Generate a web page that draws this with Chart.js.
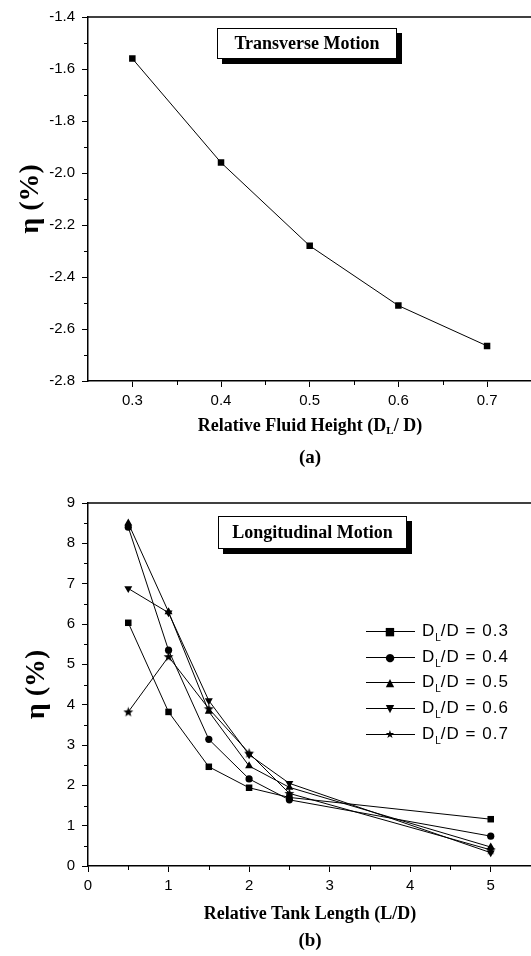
<!DOCTYPE html>
<html>
<head>
<meta charset="utf-8">
<script src="https://cdn.jsdelivr.net/npm/chart.js@4/dist/chart.umd.min.js"></script>
<style>
html, body { margin: 0; padding: 0; background: #fff; overflow: hidden; }
#page { position: relative; width: 531px; height: 956px; overflow: hidden; }
canvas { position: absolute; left: 0; }
.box { position: absolute; border: 1px solid #000; background: #fff; box-shadow: 5px 5px 0 #000;
       font: bold 18px "Liberation Serif"; text-align: center; box-sizing: border-box; color: #000; }
.cap { position: absolute; left: 0; width: 620px; text-align: center; font: bold 18px "Liberation Serif";
       line-height: 20px; color: #000; }
.cap sub { font-size: 11px; vertical-align: -3px; }
.row { position: absolute; left: 366px; height: 20px; width: 165px; }
.row .ln { position: absolute; left: 0; top: 10px; width: 49px; border-top: 1px solid #000; }
.row .mk { position: absolute; left: 24px; top: 10px; transform: translate(-50%, -50%);
           font: 11px "DejaVu Sans"; line-height: 11px; color: #000; }
.row .tx { position: absolute; left: 56px; top: 0; font: 17px "Liberation Sans"; line-height: 20px;
           letter-spacing: 1px; color: #000; white-space: nowrap; }
.row .tx sub { font-size: 10px; vertical-align: -5px; letter-spacing: 0; }
</style>
</head>
<body>
<div id="page">
  <canvas id="chartA" width="536" height="470" style="top:0"></canvas>
  <canvas id="chartB" width="536" height="486" style="top:470px"></canvas>

  <div class="box" style="left:217px;top:28px;width:180px;height:31px;line-height:29px">Transverse Motion</div>
  <div class="cap" style="top:415px">Relative Fluid Height (D<sub>L</sub>/ D)</div>
  <div class="cap" style="top:447px;font-size:19px">(a)</div>

  <div class="box" style="left:218px;top:516px;width:189px;height:33px;line-height:31px">Longitudinal Motion</div>
  <div class="cap" style="top:903px">Relative Tank Length (L/D)</div>
  <div class="cap" style="top:930px;font-size:19px">(b)</div>

  <div id="legend"></div>
</div>

<script>
// panel (a): transverse motion
var heightA = [0.3, 0.4, 0.5, 0.6, 0.7];
var etaA = [-1.56, -1.96, -2.28, -2.51, -2.665];
var ticksAx = [0.3, 0.4, 0.5, 0.6, 0.7];
var minorAx = [0.35, 0.45, 0.55, 0.65, 0.75];
var ticksAy = [-2.8, -2.6, -2.4, -2.2, -2.0, -1.8, -1.6, -1.4];
var minorAy = [-2.7, -2.5, -2.3, -2.1, -1.9, -1.7, -1.5];

// panel (b): longitudinal motion
var lengthB = [0.5, 1, 1.5, 2, 2.5, 5];
var eta03 = [6.03, 3.82, 2.46, 1.94, 1.70, 1.16];
var eta04 = [8.40, 5.35, 3.14, 2.16, 1.64, 0.74];
var eta05 = [8.50, 6.30, 3.83, 2.48, 1.95, 0.47];
var eta06 = [6.88, 6.28, 4.10, 2.76, 2.05, 0.33];
var eta07 = [3.82, 5.19, 3.90, 2.80, 1.80, 0.40];
var seriesNames = ["0.3", "0.4", "0.5", "0.6", "0.7"];
var ticksBx = [0, 1, 2, 3, 4, 5];
var minorBx = [0.5, 1.5, 2.5, 3.5, 4.5];
var ticksBy = [0, 1, 2, 3, 4, 5, 6, 7, 8, 9];
var minorBy = [0.5, 1.5, 2.5, 3.5, 4.5, 5.5, 6.5, 7.5, 8.5];

function pts(xs, ys) {
    return xs.map(function (x, i) { return { x: x, y: ys[i] }; });
}

// filled five point star for the 0.7 series
var star = document.createElement("canvas");
star.width = 11; star.height = 11;
var sc = star.getContext("2d");
sc.beginPath();
for (var i = 0; i < 10; i++) {
    var r = i % 2 == 0 ? 5.2 : 2.2;
    var a = -Math.PI / 2 + i * Math.PI / 5;
    sc.lineTo(5.5 + r * Math.cos(a), 5.8 + r * Math.sin(a));
}
sc.closePath();
sc.fillStyle = "#000";
sc.fill();

function frame(minorX, minorY) {
    return {
        id: "frame",
        afterDraw: function (chart) {
            var c = chart.ctx, a = chart.chartArea;
            var sx = chart.scales.x, sy = chart.scales.y;
            c.save();
            c.strokeStyle = "#000";
            c.lineWidth = 1.5;
            c.beginPath();
            c.moveTo(a.left, a.top);
            c.lineTo(a.right, a.top);
            c.stroke();
            c.lineWidth = 1;
            c.beginPath();
            minorX.forEach(function (v) {
                var p = Math.round(sx.getPixelForValue(v)) + 0.5;
                c.moveTo(p, a.bottom);
                c.lineTo(p, a.bottom + 4);
            });
            minorY.forEach(function (v) {
                var p = Math.round(sy.getPixelForValue(v)) + 0.5;
                c.moveTo(a.left, p);
                c.lineTo(a.left - 4, p);
            });
            c.stroke();
            c.restore();
        }
    };
}

var tickFont = { family: "Liberation Sans", size: 15 };
var titleFont = { family: "Liberation Serif", size: 28, weight: "bold" };
var gridOpts = { drawOnChartArea: false, drawTicks: true, tickLength: 6, color: "#000", tickWidth: 1 };
var borderOpts = { color: "#000", width: 1.5 };

function xAxis(min, max, ticks, dec, h) {
    return {
        type: "linear", min: min, max: max,
        grid: gridOpts, border: borderOpts,
        afterBuildTicks: function (s) { s.ticks = ticks.map(function (v) { return { value: v }; }); },
        afterFit: function (s) { s.height = h; },
        ticks: { font: tickFont, color: "#000", padding: 5, maxRotation: 0, autoSkip: false,
                 callback: function (v) { return v.toFixed(dec); } }
    };
}

function yAxis(min, max, ticks, dec, titlePad) {
    return {
        type: "linear", min: min, max: max,
        grid: gridOpts, border: borderOpts,
        afterBuildTicks: function (s) { s.ticks = ticks.map(function (v) { return { value: v }; }); },
        afterFit: function (s) { s.width = 88; },
        title: { display: true, text: "η (%)", font: titleFont, color: "#000", padding: { top: titlePad, bottom: 0 } },
        ticks: { font: tickFont, color: "#000", padding: 7, autoSkip: false,
                 callback: function (v) { return v.toFixed(dec); } }
    };
}

function line(label, data, style, radius, rot) {
    return {
        label: label, data: data, showLine: true,
        borderColor: "#000", backgroundColor: "#000", borderWidth: 1,
        pointStyle: style, pointRadius: radius, pointRotation: rot || 0,
        pointBackgroundColor: "#000", pointBorderColor: "#000", pointBorderWidth: 0
    };
}

new Chart(document.getElementById("chartA"), {
    type: "scatter",
    data: { datasets: [line("eta", pts(heightA, etaA), "rect", 4.6)] },
    options: {
        responsive: false, animation: false, devicePixelRatio: 1,
        layout: { padding: { top: 17, left: 0, right: 0, bottom: 0 } },
        plugins: { legend: { display: false }, tooltip: { enabled: false } },
        scales: {
            x: xAxis(0.25, 0.75, ticksAx, 1, 89),
            y: yAxis(-2.8, -1.4, ticksAy, 1, 14)
        }
    },
    plugins: [frame(minorAx, minorAy)]
});

var setsB = [
    line(seriesNames[0], pts(lengthB, eta03), "rect", 4.6),
    line(seriesNames[1], pts(lengthB, eta04), "circle", 3.6),
    line(seriesNames[2], pts(lengthB, eta05), "triangle", 4.6),
    line(seriesNames[3], pts(lengthB, eta06), "triangle", 4.6, 180),
    line(seriesNames[4], pts(lengthB, eta07), star, 5)
];

new Chart(document.getElementById("chartB"), {
    type: "scatter",
    data: { datasets: setsB },
    options: {
        responsive: false, animation: false, devicePixelRatio: 1,
        layout: { padding: { top: 33, left: 0, right: 0, bottom: 0 } },
        plugins: { legend: { display: false }, tooltip: { enabled: false } },
        scales: {
            x: xAxis(0, 5.5, ticksBx, 0, 90),
            y: yAxis(0, 9, ticksBy, 0, 20)
        }
    },
    plugins: [frame(minorBx, minorBy)]
});

// legend with subscript text
var marks = ["■", "●", "▲", "▼", "★"];
var lg = document.getElementById("legend");
seriesNames.forEach(function (n, i) {
    var row = document.createElement("div");
    row.className = "row";
    row.style.top = (621 + i * 25.7) + "px";
    row.innerHTML = '<span class="ln"></span><span class="mk">' + marks[i] + '</span>' +
        '<span class="tx">D<sub>L</sub>/D = ' + n + '</span>';
    lg.appendChild(row);
});
</script>
</body>
</html>
